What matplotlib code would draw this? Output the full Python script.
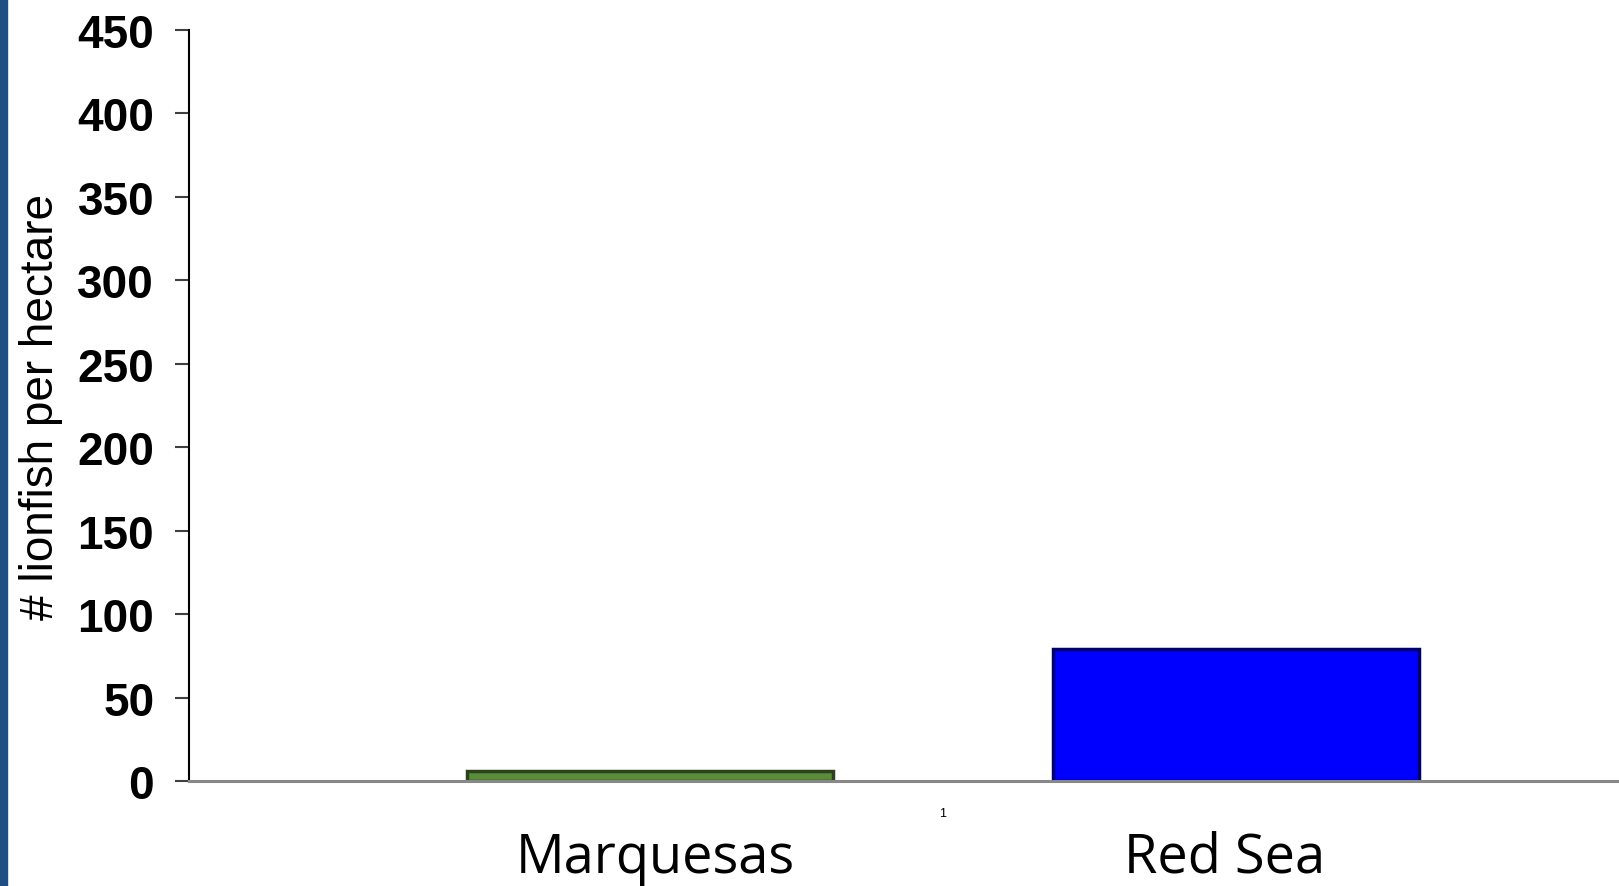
import matplotlib.pyplot as plt
from matplotlib.patches import Rectangle

# data
sites = ["Marquesas", "Red Sea"]
density = [6, 79]
bar_colors = ["#5b8c3a", "#0000ff"]
edge_colors = ["#2b431c", "#00006e"]
yticks = [0, 50, 100, 150, 200, 250, 300, 350, 400, 450]
group_label = "1"

fig = plt.figure(figsize=(16.19, 8.87), dpi=100)
fig.patch.set_facecolor("white")

# dark blue strip on the left edge
fig.patches.append(Rectangle((0, 0), 0.0045, 1, transform=fig.transFigure,
                             color="#1f4e85", zorder=0))

ax = fig.add_axes([0.1167, 0.1184, 0.8833, 0.8466])

offsets = [-0.8, 0.8]
for i in range(len(sites)):
    ax.bar(offsets[i], density[i], width=1.0, color=bar_colors[i],
           edgecolor=edge_colors[i], linewidth=2.5, zorder=3)

ax.set_xlim(-2.06, 1.847)
ax.set_ylim(0, 450)
ax.set_yticks(yticks)
ax.set_yticklabels([str(t) for t in yticks], fontsize=33, fontweight="bold",
                   family="Liberation Sans")
ax.tick_params(axis="y", direction="out", length=10, width=1.5,
               color="#404040", pad=15)

ax.set_xticks([0])
ax.set_xticklabels([group_label], fontsize=9, family="Liberation Sans")
ax.tick_params(axis="x", length=0, pad=19)

ax.spines["top"].set_visible(False)
ax.spines["right"].set_visible(False)
ax.spines["left"].set_linewidth(1.5)
ax.spines["left"].set_color("black")
ax.spines["bottom"].set_linewidth(2.2)
ax.spines["bottom"].set_color("#888888")
ax.spines["bottom"].set_zorder(4)

ax.set_ylabel("# lionfish per hectare", fontsize=33, family="Liberation Sans")
ax.yaxis.set_label_coords(-0.088, 0.5)

# category names under the bars
label_shift = [0.015, -0.03]
for i in range(len(sites)):
    x_fig = fig.transFigure.inverted().transform(
        ax.transData.transform((offsets[i] + label_shift[i], 0)))[0]
    fig.text(x_fig, 0.016, sites[i], ha="center", va="baseline",
             fontsize=39, family="Open Sans")

fig.savefig("out.png", dpi=100)
